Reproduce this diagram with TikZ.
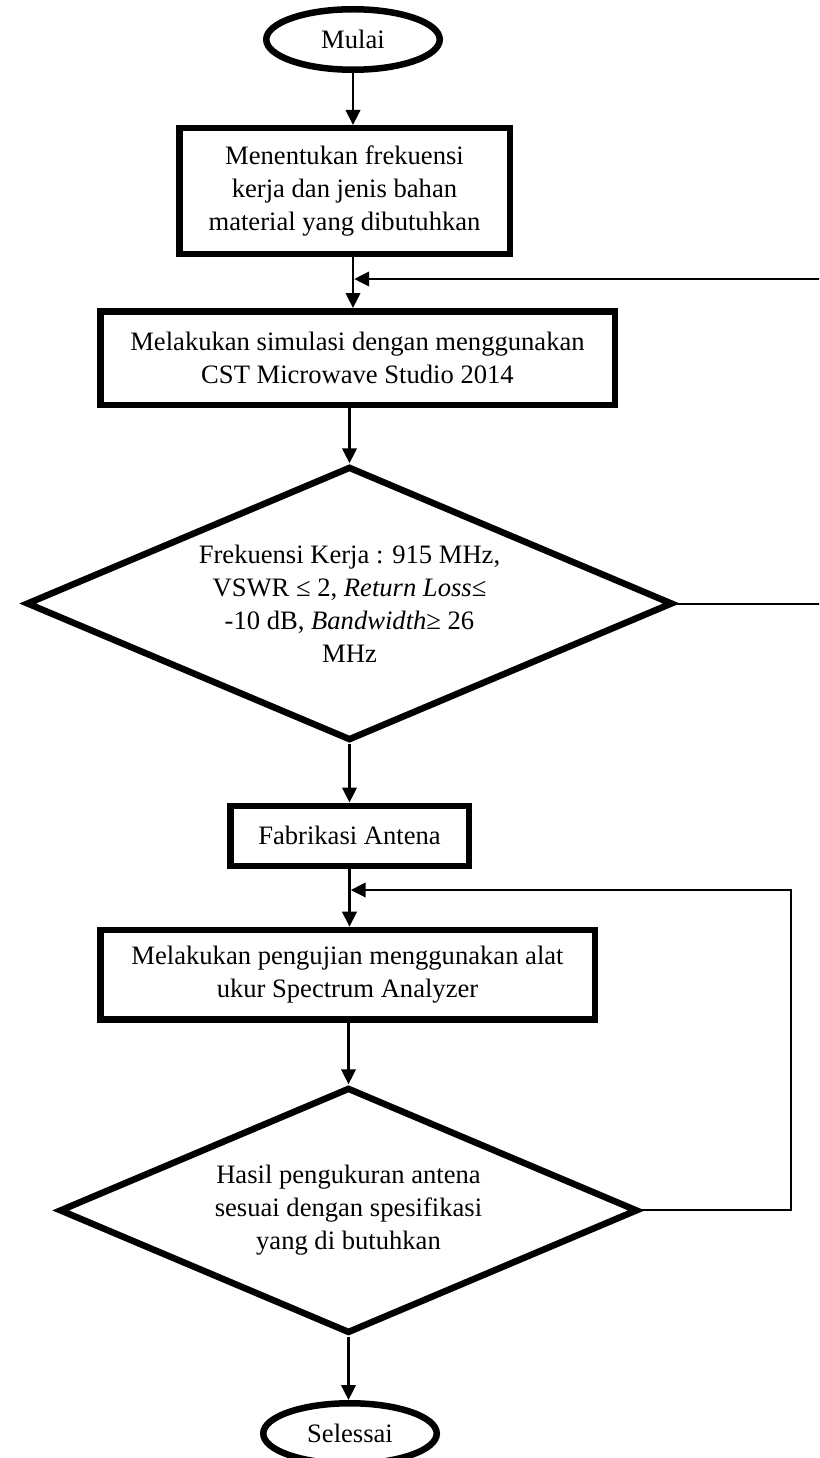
\documentclass[tikz,border=0pt]{standalone}
\usepackage{fontspec}
\setmainfont{Liberation Serif}[Ligatures={TeX,CommonOff}]
\usetikzlibrary{shapes.geometric,arrows.meta}
\begin{document}
\begin{tikzpicture}[x=1pt,y=-1pt,
  every node/.style={font=\fontsize{26.6}{33}\selectfont},
  terminal/.style={ellipse, draw, line width=6.5pt, inner sep=0pt,
    minimum width=173.5pt, minimum height=60.5pt},
  process/.style={rectangle, draw, line width=6.5pt, inner sep=0pt, align=center},
  decision/.style={diamond, draw, line width=6.5pt, inner sep=0pt, align=center},
  tip/.style={-{Triangle[length=15pt,width=14.5pt]}},
  flow/.style={tip, line width=2.4pt},
  back/.style={line width=2pt},
]
\useasboundingbox (0,0) rectangle (819,1458);
\clip (0,0) rectangle (819,1458);

% flowchart blocks
\node[terminal] (start) at (353,39.5) {Mulai};
\node[process, minimum width=330.5pt, minimum height=125.5pt] (box1) at (344.5,191)
  {Menentukan frekuensi\\kerja dan jenis bahan\\material yang dibutuhkan};
\node[process, minimum width=514.5pt, minimum height=93.5pt] (box2) at (357.5,358)
  {Melakukan simulasi dengan menggunakan\\CST Microwave Studio 2014};
\node[decision, aspect=2.36, minimum width=646.4pt, minimum height=274pt] (dia1) at (349.5,603.5)
  {Frekuensi Kerja : 915 MHz,\\VSWR ≤ 2, \textit{Return Loss}≤\\-10 dB, \textit{Bandwidth}≥ 26\\MHz};
\node[process, minimum width=238.5pt, minimum height=60pt] (fab) at (349.5,835.75)
  {Fabrikasi Antena};
\node[process, minimum width=494.5pt, minimum height=89.5pt] (box3) at (347.5,974.7)
  {Melakukan pengujian menggunakan alat\\ukur Spectrum Analyzer};
\node[decision, aspect=2.35, minimum width=578.4pt, minimum height=245.8pt] (dia2) at (348.5,1210.4)
  {Hasil pengukuran antena\\sesuai dengan spesifikasi\\yang di butuhkan};
\node[terminal] (stop) at (350,1433.5) {Selessai};

% main flow
\draw[flow] (start.south) -- (start.south |- box1.north);
\draw[flow] (box1.south -| start.south) -- (box2.north -| start.south);
\draw[flow] (box2.south -| dia1.north) -- (dia1.north);
\draw[flow] (dia1.south) -- (dia1.south |- fab.north);
\draw[flow] (fab.south) -- (fab.south |- box3.north);
\draw[flow] (box3.south -| dia2.north) -- (dia2.north);
\draw[flow] (dia2.south) -- (dia2.south |- stop.north);

% return path of the simulation check (runs off the right margin)
\coordinate (j1) at (353,279);
\coordinate (exit1) at (830,603.5);
\coordinate (entry1) at (830,279);
\draw[back] (dia1.east) -- (exit1);
\draw[back, tip, shorten >=1.2pt] (entry1) -- (j1);

% return path of the measurement check
\coordinate (j2) at (349.5,890);
\coordinate (corner2) at (791,890);
\draw[back, tip, shorten >=1.2pt] (dia2.east) -| (corner2) -- (j2);
\end{tikzpicture}
\end{document}
